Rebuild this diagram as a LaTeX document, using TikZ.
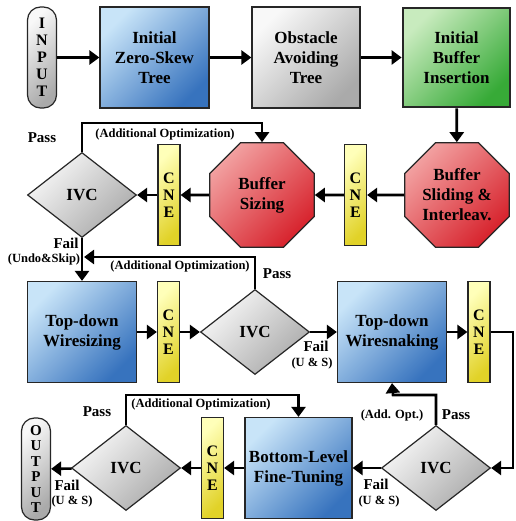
\documentclass[tikz,border=0pt]{standalone}
\usepackage{fontspec}
\setmainfont{Liberation Serif}
\usetikzlibrary{shapes.geometric,arrows.meta}
\definecolor{blueL}{RGB}{200,228,248}
\definecolor{blueD}{RGB}{55,115,190}
\definecolor{grayL}{RGB}{248,248,248}
\definecolor{grayD}{RGB}{170,170,170}
\definecolor{greenL}{RGB}{200,235,190}
\definecolor{greenD}{RGB}{55,170,55}
\definecolor{redL}{RGB}{242,160,160}
\definecolor{redD}{RGB}{215,35,45}
\definecolor{yelL}{RGB}{255,255,185}
\definecolor{yelD}{RGB}{225,210,40}
\tikzset{
  base/.style={draw=black!85, line width=1.2pt, align=center, inner sep=0pt,
    font=\bfseries\fontsize{17}{20}\selectfont},
  grad/.style 2 args={top color=#1, bottom color=#2, shading angle=45},
  bluebox/.style={base, rectangle, minimum width=109pt, minimum height=101pt, grad={blueL}{blueD}},
  graybox/.style={base, rectangle, minimum width=108pt, minimum height=101pt, grad={grayL}{grayD}},
  greenbox/.style={base, rectangle, line width=2.8pt, minimum width=107pt, minimum height=99pt, grad={greenL}{greenD}},
  oct/.style={base, regular polygon, regular polygon sides=8, minimum size=113pt, grad={redL}{redD}},
  cne/.style={base, rectangle, minimum width=22pt, minimum height=101pt, grad={yelL}{yelD},
    font=\bfseries\fontsize{16}{17}\selectfont},
  ivc/.style={base, diamond, minimum width=109pt, minimum height=85pt, grad={grayL}{grayD}},
  capsule/.style={base, rectangle, rounded corners=13pt, minimum width=29pt, minimum height=101pt,
    grad={grayL}{grayD}, font=\bfseries\fontsize{16}{17}\selectfont},
  conn/.style={line width=2.6pt, -{Triangle[length=10pt,width=14pt]}},
  lab/.style={font=\bfseries\fontsize{12.5}{13}\selectfont, inner sep=0pt},
  plab/.style={font=\bfseries\fontsize{15}{15}\selectfont, inner sep=0pt},
}
\begin{document}
\begin{tikzpicture}[x=1pt,y=-1pt]
\useasboundingbox[fill=white] (0,0) rectangle (515,521);
% row 1
\node[capsule] (in) at (42,57.5) {I\\N\\P\\U\\T};
\node[bluebox] (zst) at (154.5,57.5) {Initial\\Zero-Skew\\Tree};
\node[graybox] (oat) at (306,57.5) {Obstacle\\Avoiding\\Tree};
\node[greenbox] (ibi) at (456.5,57.5) {Initial\\Buffer\\Insertion};
% row 2
\node[oct] (bsi) at (457,195) {Buffer\\Sliding \&\\Interleav.};
\node[cne] (cne2) at (355.5,195) {C\\N\\E};
\node[oct] (bsz) at (262,195) {Buffer\\Sizing};
\node[cne] (cne1) at (169,195) {C\\N\\E};
\node[ivc] (ivc1) at (82,195) {IVC};
% row 3
\node[bluebox] (tdw) at (82,332) {Top-down\\Wiresizing};
\node[cne] (cne3) at (168.5,332) {C\\N\\E};
\node[ivc] (ivc2) at (255,332) {IVC};
\node[bluebox] (tws) at (392,332) {Top-down\\Wiresnaking};
\node[cne] (cne4) at (479,332) {C\\N\\E};
% row 4
\node[capsule, minimum height=102pt, font=\bfseries\fontsize{15}{15.5}\selectfont] (out) at (36,469) {O\\U\\T\\P\\U\\T};
\node[ivc] (ivc3) at (126,468) {IVC};
\node[cne] (cne5) at (212.5,468) {C\\N\\E};
\node[bluebox, minimum width=107pt] (blft) at (298.5,468) {Bottom-Level\\Fine-Tuning};
\node[ivc] (ivc4) at (436,468) {IVC};
% coordinates
\coordinate (p1) at (82,123);
\coordinate (p2) at (255,257);
\coordinate (q2) at (84,257);
\coordinate (r1) at (513,332);
\coordinate (r2) at (513,468);
\coordinate (p4) at (393,395);
\coordinate (p3) at (298.5,395);
% connectors
\draw[conn] (in) -- (zst);
\draw[conn] (zst) -- (oat);
\draw[conn] (oat) -- (ibi);
\draw[conn] (ibi) -- (bsi);
\draw[conn] (bsi) -- (cne2);
\draw[conn] (cne2) -- (bsz);
\draw[conn] (bsz) -- (cne1);
\draw[conn] (cne1) -- (ivc1);
\draw[conn] (ivc1.north) -- (p1) -| (bsz.north);
\draw[conn] (ivc1.south) -- (tdw.north);
\draw[conn] (ivc2.north) -- (p2) -- (q2);
\draw[conn] (tdw) -- (cne3);
\draw[conn] (cne3) -- (ivc2);
\draw[conn] (ivc2) -- (tws);
\draw[conn] (tws) -- (cne4);
\draw[conn] (cne4) -- (r1) -- (r2) -- (ivc4.east);
\draw[conn] (ivc4) -- (blft);
\draw[conn] (ivc4.north) |- (p4) -- (tws.south);
\draw[conn] (blft) -- (cne5);
\draw[conn] (cne5) -- (ivc3);
\draw[conn] (ivc3) -- (out);
\draw[conn] (ivc3.north) |- (p3) -- (blft.north);
% labels
\node[plab] (l1) at (42,138) {Pass};
\node[lab] (l2) at (165,134) {(Additional Optimization)};
\node[plab] (l3) at (66,243.5) {Fail};
\node[lab] (l4) at (44,259) {(Undo\&Skip)};
\node[lab] (l5) at (180,266) {(Additional Optimization)};
\node[plab] (l6) at (277,274) {Pass};
\node[plab] (l7) at (316,346) {Fail};
\node[lab] (l8) at (312,363) {(U \& S)};
\node[lab] (l9) at (201,404) {(Additional Optimization)};
\node[plab] (l10) at (97,412) {Pass};
\node[plab] (l11) at (67,485.5) {Fail};
\node[lab] (l12) at (72,501) {(U \& S)};
\node[lab] (l13) at (392,415) {(Add. Opt.)};
\node[plab] (l14) at (456,415) {Pass};
\node[plab] (l15) at (376,484.5) {Fail};
\node[lab] (l16) at (379,501) {(U \& S)};
\end{tikzpicture}
\end{document}
